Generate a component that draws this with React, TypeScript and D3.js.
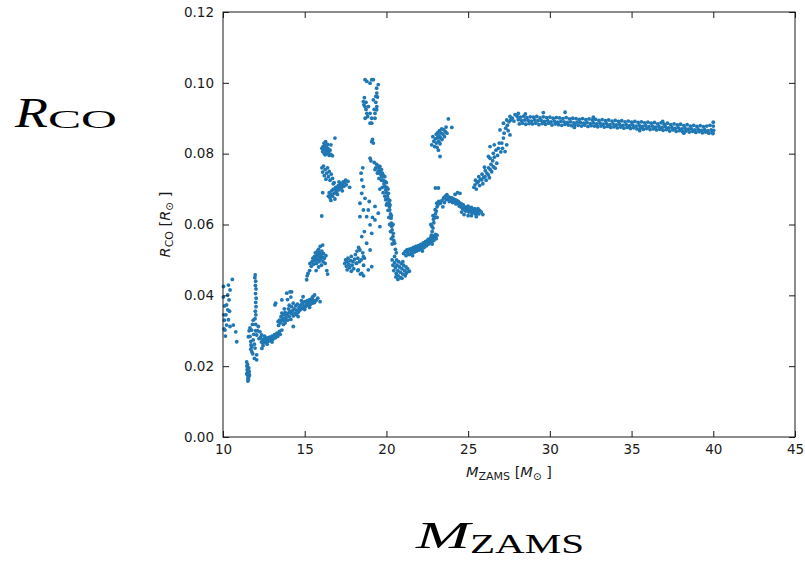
import React, { useEffect, useRef } from 'react';
import * as d3 from 'd3';

type Pt = [number, number];

// axis ticks
const massTicks = [10, 15, 20, 25, 30, 35, 40, 45];
const radiusTicks = [0, 0.02, 0.04, 0.06, 0.08, 0.1, 0.12];

// M_ZAMS [Msun], R_CO [Rsun], cluster by cluster
const lowMassTail: Pt[] = [
  [10.02, 0.0395], [10.05, 0.0345], [10.08, 0.033], [10.1, 0.037], [10.12, 0.0302], [10.15, 0.0285],
  [10.18, 0.0345], [10.22, 0.0373], [10.22, 0.0316], [10.29, 0.0401], [10.29, 0.0359], [10.33, 0.0429],
  [10.33, 0.0331], [10.37, 0.0387], [10.4, 0.0355], [10.43, 0.0415], [10.43, 0.0312], [10.57, 0.0445],
  [10.63, 0.0316], [10.78, 0.0297], [10.84, 0.0269], [10.03, 0.0425], [10.06, 0.0305],
];

const dipCluster: Pt[] = [
  [11.45, 0.0212], [11.5, 0.0205], [11.47, 0.02], [11.53, 0.0196], [11.48, 0.019], [11.55, 0.0186],
  [11.5, 0.0182], [11.57, 0.0178], [11.52, 0.0174], [11.58, 0.017], [11.53, 0.0166], [11.56, 0.0162],
  [11.52, 0.0158], [11.6, 0.0185], [11.62, 0.0175], [11.45, 0.0178], [11.58, 0.0195],
];

const spike12: Pt[] = [
  [11.97, 0.0458], [11.95, 0.045], [12.0, 0.044], [11.98, 0.0428], [12.02, 0.0418], [11.99, 0.0405],
  [12.03, 0.0392], [12.0, 0.038], [12.02, 0.0368], [11.98, 0.0355], [12.01, 0.0345], [11.96, 0.0334],
];

const knot12: Pt[] = [
  [11.55, 0.0283], [11.6, 0.03], [11.65, 0.0308], [11.65, 0.0284], [11.7, 0.027], [11.71, 0.026],
  [11.76, 0.0302], [11.76, 0.0255], [11.76, 0.0241], [11.8, 0.0318], [11.85, 0.033], [11.85, 0.0274],
  [11.88, 0.029], [11.92, 0.0222], [11.92, 0.0262], [11.96, 0.0251], [12.0, 0.03], [12.0, 0.0318],
  [12.06, 0.0288], [12.06, 0.0232], [12.06, 0.0218], [12.1, 0.03], [12.16, 0.0312], [12.2, 0.0278],
  [12.26, 0.0297], [12.3, 0.0282], [12.37, 0.0288], [11.82, 0.0235], [11.7, 0.0248],
];

const rise12to13: Pt[] = [
  [12.35, 0.0268], [12.4, 0.0275], [12.45, 0.0265], [12.5, 0.0272], [12.55, 0.0278], [12.6, 0.0268],
  [12.65, 0.0274], [12.7, 0.028], [12.75, 0.027], [12.8, 0.0276], [12.85, 0.0282], [12.9, 0.0272],
  [12.95, 0.0279], [13.0, 0.0285], [13.05, 0.0276], [13.1, 0.0283], [13.15, 0.0289], [13.2, 0.028],
  [13.25, 0.0287], [13.3, 0.0293], [13.35, 0.0284], [13.4, 0.0292], [13.45, 0.0298], [13.5, 0.029],
  [12.45, 0.0258], [12.7, 0.0262], [12.55, 0.0285], [13.0, 0.0268], [12.38, 0.025],
];

const band13to16: Pt[] = [
  [13.4, 0.0315], [13.45, 0.033], [13.5, 0.0322], [13.55, 0.034], [13.6, 0.0302], [13.6, 0.0328],
  [13.6, 0.035], [13.65, 0.0335], [13.7, 0.0318], [13.7, 0.0345], [13.75, 0.033], [13.8, 0.0352],
  [13.8, 0.0322], [13.85, 0.0338], [13.9, 0.0345], [13.9, 0.0406], [13.95, 0.033], [14.0, 0.035],
  [14.0, 0.0362], [14.05, 0.034], [14.1, 0.041], [14.1, 0.0355], [14.15, 0.0332], [14.2, 0.0348],
  [14.2, 0.0368], [14.25, 0.0356], [14.3, 0.0312], [14.3, 0.0342], [14.35, 0.0362], [14.4, 0.035],
  [14.45, 0.037], [14.5, 0.0345], [14.5, 0.0358], [14.55, 0.0375], [14.6, 0.0352], [14.65, 0.0365],
  [14.7, 0.0358], [14.75, 0.0372], [14.8, 0.0362], [14.85, 0.0378], [14.9, 0.0364], [14.9, 0.0396],
  [14.95, 0.037], [15.0, 0.0382], [15.05, 0.0368], [15.1, 0.0376], [15.15, 0.0385], [15.2, 0.0372],
  [15.25, 0.038], [15.3, 0.0388], [15.35, 0.0375], [15.4, 0.0384], [15.45, 0.0392], [15.5, 0.0378],
  [15.5, 0.0396], [15.55, 0.0385], [15.6, 0.0401], [15.6, 0.038], [15.7, 0.0386], [15.94, 0.0382],
  [13.18, 0.0373], [13.22, 0.0378], [13.37, 0.0326], [14.2, 0.041], [13.6, 0.0387],
  [14.05, 0.0372], [14.3, 0.0378], [14.6, 0.034], [14.8, 0.0385], [15.0, 0.036], [15.3, 0.0366],
  [13.75, 0.0362], [15.8, 0.0392], [13.95, 0.0388], [14.15, 0.0395],
];

const clump16Low: Pt[] = [
  [15.12, 0.0444], [15.15, 0.0455], [15.2, 0.0462], [15.32, 0.049], [15.3, 0.047], [15.4, 0.0482],
  [15.45, 0.0495], [15.5, 0.0505], [15.55, 0.0488], [15.6, 0.051], [15.62, 0.0498], [15.65, 0.052],
  [15.7, 0.0505], [15.72, 0.049], [15.75, 0.0512], [15.78, 0.0525], [15.8, 0.05], [15.82, 0.0515],
  [15.85, 0.053], [15.88, 0.0495], [15.9, 0.0508], [15.92, 0.052], [15.95, 0.0538], [15.98, 0.0502],
  [16.0, 0.0515], [16.02, 0.0485], [16.05, 0.0525], [16.08, 0.0508], [16.1, 0.0542], [16.12, 0.0495],
  [16.15, 0.0518], [16.2, 0.0505], [16.25, 0.049], [16.3, 0.0512], [16.35, 0.047], [16.4, 0.046],
  [15.85, 0.048], [15.7, 0.047],
];

const clump16High: Pt[] = [
  [16.1, 0.0806], [16.12, 0.082], [16.15, 0.0812], [16.18, 0.083], [16.2, 0.08], [16.22, 0.0824],
  [16.25, 0.0815], [16.28, 0.0834], [16.3, 0.0808], [16.32, 0.0822], [16.35, 0.0812], [16.38, 0.08],
  [16.4, 0.0826], [16.42, 0.0815], [16.45, 0.0804], [16.5, 0.0795], [16.55, 0.081], [16.6, 0.0798],
  [16.7, 0.0794], [16.85, 0.0844], [16.25, 0.0797], [16.05, 0.0815], [16.6, 0.0825],
];

const scatter16Mid: Pt[] = [
  [16.05, 0.076], [16.1, 0.0748], [16.15, 0.0765], [16.2, 0.0738], [16.25, 0.0755], [16.3, 0.0728],
  [16.35, 0.0745], [16.4, 0.076], [16.45, 0.0735], [16.5, 0.075], [16.55, 0.0725], [16.62, 0.0742],
  [16.7, 0.073], [16.8, 0.0718], [16.1, 0.069], [16.04, 0.0624],
];

const clump17: Pt[] = [
  [16.45, 0.068], [16.5, 0.069], [16.55, 0.0675], [16.6, 0.0685], [16.65, 0.0695], [16.7, 0.068],
  [16.75, 0.07], [16.8, 0.0688], [16.85, 0.0698], [16.9, 0.0705], [16.95, 0.0692], [17.0, 0.0702],
  [17.05, 0.071], [17.1, 0.0698], [17.15, 0.0708], [17.2, 0.0715], [17.25, 0.0703], [17.3, 0.0712],
  [17.35, 0.072], [17.4, 0.0708], [17.45, 0.0718], [17.5, 0.0725], [17.55, 0.0712], [17.65, 0.0722],
  [16.6, 0.0668], [16.85, 0.0672], [17.0, 0.0685], [17.1, 0.072], [16.75, 0.0715], [17.3, 0.0695],
  [17.75, 0.0705],
];

const clump18Low: Pt[] = [
  [17.45, 0.049], [17.5, 0.05], [17.55, 0.0482], [17.6, 0.0495], [17.65, 0.0505], [17.7, 0.0488],
  [17.75, 0.0478], [17.8, 0.0498], [17.85, 0.051], [17.9, 0.0485], [17.95, 0.0495], [18.0, 0.0475],
  [18.05, 0.0502], [18.1, 0.0515], [18.15, 0.049], [18.2, 0.0525], [18.25, 0.0505], [18.25, 0.047],
  [18.3, 0.0535], [18.35, 0.0495], [18.4, 0.046], [18.45, 0.05], [18.55, 0.052], [18.6, 0.0485],
  [18.6, 0.0455], [18.65, 0.0505], [17.6, 0.0472], [17.85, 0.0468],
];

const peak19: Pt[] = [
  [18.59, 0.0947], [18.62, 0.0938], [18.69, 0.1009], [18.69, 0.0933], [18.7, 0.09], [18.75, 0.0925],
  [18.8, 0.1004], [18.8, 0.0914], [18.85, 0.0905], [18.9, 0.0933], [19.0, 0.0999], [19.0, 0.0914],
  [19.0, 0.0886], [19.1, 0.1009], [19.1, 0.09], [19.1, 0.0886], [19.2, 0.1009], [19.2, 0.0952],
  [19.25, 0.0925], [19.3, 0.0914], [19.3, 0.09], [19.35, 0.0945], [19.4, 0.0985], [19.41, 0.0971],
  [19.41, 0.0933], [19.4, 0.0924], [19.45, 0.096], [19.5, 0.0995], [19.1, 0.0834], [19.15, 0.084],
  [19.2, 0.083], [18.65, 0.0958], [18.75, 0.0945], [19.35, 0.0962],
];

const fallingBranch20: Pt[] = [
  [19.0, 0.0787], [19.05, 0.078], [19.25, 0.0775], [19.4, 0.077], [19.5, 0.0765], [19.55, 0.0758],
  [19.6, 0.0764], [19.62, 0.075], [19.65, 0.0742], [19.7, 0.0755], [19.72, 0.0735], [19.75, 0.0745],
  [19.8, 0.0725], [19.82, 0.0738], [19.85, 0.0715], [19.9, 0.0707], [19.92, 0.0722], [19.95, 0.0698],
  [20.0, 0.069], [20.02, 0.0705], [20.05, 0.068], [20.1, 0.0672], [20.12, 0.0688], [20.15, 0.066],
  [20.18, 0.065], [20.2, 0.0641], [20.22, 0.0655], [20.25, 0.063], [20.28, 0.0618], [20.3, 0.0604],
  [20.32, 0.0595], [20.35, 0.0585], [20.4, 0.0566], [20.42, 0.0575], [20.45, 0.0555], [20.5, 0.0547],
  [20.55, 0.053], [20.6, 0.052], [19.35, 0.076], [19.45, 0.0745], [20.05, 0.066], [20.3, 0.0625],
  [19.75, 0.0705], [19.3, 0.0755], [19.5, 0.075], [19.7, 0.0725], [19.8, 0.069], [19.9, 0.068],
  [19.95, 0.067], [20.0, 0.0655], [20.1, 0.064], [20.15, 0.062], [20.2, 0.06], [20.25, 0.058],
  [20.3, 0.056], [20.35, 0.0545], [19.6, 0.07], [19.55, 0.073], [19.9, 0.0735], [20.1, 0.07],
  [20.0, 0.0718], [20.2, 0.0668], [20.4, 0.06],
];

const risingBranch19: Pt[] = [
  [18.49, 0.0726], [18.59, 0.0707], [18.49, 0.0688], [18.69, 0.0674], [18.38, 0.066], [18.59, 0.0641],
  [18.89, 0.0641], [18.38, 0.0622], [18.79, 0.0622], [19.3, 0.0651], [19.5, 0.0632], [19.3, 0.0613],
  [19.0, 0.0599], [19.6, 0.0594], [18.49, 0.0566], [19.1, 0.0575], [18.79, 0.0547], [19.0, 0.0528],
  [18.38, 0.0528], [18.59, 0.0509], [18.18, 0.0491], [18.28, 0.0472], [18.49, 0.0462], [19.1, 0.0481],
  [18.89, 0.0472], [18.65, 0.058], [18.95, 0.0665], [19.15, 0.062], [18.55, 0.076], [18.45, 0.0745],
];

const clump21Low: Pt[] = [
  [20.35, 0.05], [20.4, 0.0485], [20.45, 0.047], [20.5, 0.0492], [20.55, 0.0478], [20.6, 0.0462],
  [20.62, 0.05], [20.65, 0.0485], [20.7, 0.047], [20.72, 0.0455], [20.75, 0.0495], [20.8, 0.048],
  [20.85, 0.0465], [20.88, 0.045], [20.9, 0.049], [20.95, 0.0475], [21.0, 0.046], [21.05, 0.0485],
  [21.1, 0.047], [21.15, 0.0455], [21.2, 0.048], [21.25, 0.0465], [21.3, 0.0475], [21.4, 0.0468],
  [20.7, 0.0445], [21.0, 0.0495], [20.5, 0.051], [20.58, 0.0452], [20.95, 0.0448], [21.2, 0.0462],
];

const band21to23: Pt[] = [
  [21.05, 0.0518], [21.15, 0.0524], [21.2, 0.0512], [21.25, 0.0528], [21.3, 0.052], [21.35, 0.053],
  [21.4, 0.0515], [21.45, 0.0526], [21.5, 0.0532], [21.55, 0.052], [21.6, 0.0528], [21.65, 0.0535],
  [21.7, 0.0522], [21.75, 0.053], [21.8, 0.0538], [21.85, 0.0525], [21.9, 0.0533], [21.95, 0.054],
  [22.0, 0.0528], [22.05, 0.0536], [22.1, 0.0544], [22.15, 0.053], [22.2, 0.054], [22.25, 0.0548],
  [22.3, 0.0535], [22.35, 0.0545], [22.4, 0.0552], [22.45, 0.054], [22.5, 0.055], [22.55, 0.0558],
  [22.6, 0.0545], [22.65, 0.0555], [22.7, 0.0562], [22.75, 0.055], [22.8, 0.056], [22.85, 0.0568],
  [22.9, 0.0555], [22.95, 0.0565], [23.0, 0.0572], [23.05, 0.056], [23.1, 0.057], [21.6, 0.0512],
  [22.2, 0.0525],
];

const rise23: Pt[] = [
  [22.7, 0.056], [22.75, 0.057], [22.8, 0.058], [22.78, 0.0595], [22.85, 0.059], [22.9, 0.0605],
  [22.88, 0.0615], [22.95, 0.062], [23.0, 0.063], [22.98, 0.0642], [23.05, 0.0638], [23.1, 0.065],
  [23.08, 0.066], [23.15, 0.0655], [23.2, 0.0665], [22.85, 0.0625], [23.1, 0.062], [22.72, 0.06],
  [23.0, 0.0703], [22.8, 0.0545],
];

const clump23High: Pt[] = [
  [22.77, 0.0825], [22.84, 0.0848], [22.9, 0.0835], [22.95, 0.082], [23.0, 0.0842], [23.05, 0.083],
  [23.05, 0.0855], [23.1, 0.0818], [23.12, 0.0845], [23.15, 0.086], [23.2, 0.0835], [23.22, 0.085],
  [23.25, 0.0865], [23.28, 0.0828], [23.3, 0.0845], [23.35, 0.0858], [23.38, 0.087], [23.4, 0.084],
  [23.45, 0.0855], [23.5, 0.0868], [23.55, 0.0848], [23.6, 0.0862], [23.65, 0.0875], [23.7, 0.0858],
  [23.79, 0.0898], [24.0, 0.0874], [23.28, 0.0792], [23.18, 0.081],
];

const shelf24to26: Pt[] = [
  [23.3, 0.066], [23.4, 0.0668], [23.5, 0.0675], [23.55, 0.0662], [23.6, 0.068], [23.65, 0.067],
  [23.7, 0.0684], [23.75, 0.0672], [23.8, 0.0678], [23.85, 0.0665], [23.9, 0.0676], [23.95, 0.0668],
  [24.0, 0.0675], [24.05, 0.0662], [24.1, 0.0672], [24.15, 0.0665], [24.2, 0.067], [24.25, 0.0658],
  [24.3, 0.0668], [24.35, 0.066], [24.4, 0.0665], [24.45, 0.0652], [24.5, 0.0688], [24.5, 0.066],
  [24.55, 0.065], [24.6, 0.0658], [24.65, 0.0645], [24.7, 0.0655], [24.75, 0.0642], [24.8, 0.065],
  [24.85, 0.0638], [24.9, 0.0648], [24.95, 0.064], [25.0, 0.0652], [25.05, 0.0635], [25.1, 0.0645],
  [25.15, 0.0638], [25.2, 0.0648], [25.25, 0.0632], [25.3, 0.0642], [25.35, 0.0635], [25.4, 0.0645],
  [25.45, 0.063], [25.5, 0.064], [25.55, 0.0635], [25.6, 0.0645], [25.65, 0.063], [25.7, 0.064],
  [25.8, 0.0635], [25.9, 0.0628], [24.2, 0.0685], [24.35, 0.069], [23.18, 0.0703], [23.45, 0.065],
  [25.0, 0.0625], [24.75, 0.0628], [24.6, 0.0635], [25.2, 0.0625], [25.5, 0.0622],
];

const climb26to28: Pt[] = [
  [25.35, 0.0705], [25.42, 0.0712], [25.45, 0.0725], [25.5, 0.07], [25.55, 0.0718], [25.62, 0.0721],
  [25.65, 0.0735], [25.7, 0.071], [25.75, 0.0728], [25.83, 0.0726], [25.85, 0.0742], [25.9, 0.0715],
  [25.95, 0.0733], [26.03, 0.0735], [26.05, 0.0752], [26.1, 0.0725], [26.15, 0.0745], [26.24, 0.074],
  [26.24, 0.0792], [26.25, 0.076], [26.3, 0.0732], [26.34, 0.0787], [26.34, 0.082], [26.35, 0.0755],
  [26.4, 0.077], [26.44, 0.0749], [26.5, 0.078], [26.54, 0.0801], [26.54, 0.0763], [26.6, 0.079],
  [26.65, 0.0759], [26.7, 0.081], [26.75, 0.0773], [26.8, 0.0795], [26.85, 0.0815], [26.9, 0.083],
  [26.95, 0.0867], [27.0, 0.0805], [27.06, 0.083], [27.1, 0.0815], [27.16, 0.0844], [27.16, 0.0886],
  [27.2, 0.0858], [27.26, 0.0806], [27.3, 0.0872], [27.36, 0.0825], [27.36, 0.0895], [27.4, 0.088],
  [27.45, 0.0865], [27.5, 0.089], [27.56, 0.0853], [27.56, 0.0905], [27.6, 0.0895], [27.7, 0.09],
  [27.8, 0.0892], [27.87, 0.091], [28.07, 0.0914], [26.0, 0.0762], [26.6, 0.0825],
];

const plateau28to34: Pt[] = [
  [28.0, 0.0905], [28.07, 0.0896], [28.13, 0.0884], [28.2, 0.0903], [28.27, 0.0893], [28.33, 0.0886],
  [28.4, 0.0906], [28.47, 0.0895], [28.53, 0.0883], [28.6, 0.0902], [28.67, 0.0894], [28.73, 0.0885],
  [28.8, 0.0904], [28.87, 0.0892], [28.93, 0.0884], [29.0, 0.0903], [29.07, 0.0895], [29.13, 0.0886],
  [29.2, 0.0905], [29.27, 0.0893], [29.33, 0.0882], [29.4, 0.0901], [29.47, 0.0894], [29.53, 0.0885],
  [29.6, 0.0904], [29.67, 0.0891], [29.73, 0.0883], [29.8, 0.0902], [29.87, 0.0893], [29.93, 0.0886],
  [30.0, 0.0903], [30.07, 0.089], [30.13, 0.0881], [30.2, 0.09], [30.27, 0.0892], [30.33, 0.0884],
  [30.4, 0.0902], [30.47, 0.0889], [30.53, 0.0882], [30.6, 0.0901], [30.67, 0.0891], [30.73, 0.088],
  [30.8, 0.0899], [30.87, 0.089], [30.93, 0.0883], [31.0, 0.0902], [31.07, 0.0888], [31.13, 0.0881],
  [31.2, 0.0898], [31.27, 0.089], [31.33, 0.0879], [31.4, 0.09], [31.47, 0.0887], [31.53, 0.0882],
  [31.6, 0.0899], [31.67, 0.0889], [31.73, 0.088], [31.8, 0.0897], [31.87, 0.0888], [31.93, 0.0878],
  [32.0, 0.0899], [32.07, 0.0886], [32.13, 0.0881], [32.2, 0.0896], [32.27, 0.0888], [32.33, 0.0877],
  [32.4, 0.0898], [32.47, 0.0885], [32.53, 0.0879], [32.6, 0.0895], [32.67, 0.0887], [32.73, 0.0878],
  [32.8, 0.0897], [32.87, 0.0884], [32.93, 0.0876], [33.0, 0.0894], [33.07, 0.0886], [33.13, 0.0878],
  [33.2, 0.0896], [33.27, 0.0883], [33.33, 0.0875], [33.4, 0.0893], [33.47, 0.0885], [33.53, 0.0877],
  [33.6, 0.0895], [33.67, 0.0882], [33.73, 0.0874], [33.8, 0.0892], [33.87, 0.0884], [33.93, 0.0876],
];

const plateau34to40: Pt[] = [
  [34.0, 0.0894], [34.07, 0.0881], [34.13, 0.0873], [34.2, 0.0891], [34.27, 0.0883], [34.33, 0.0875],
  [34.4, 0.0893], [34.47, 0.088], [34.53, 0.0872], [34.6, 0.089], [34.67, 0.0882], [34.73, 0.0874],
  [34.8, 0.0892], [34.87, 0.0879], [34.93, 0.0871], [35.0, 0.0889], [35.07, 0.0881], [35.13, 0.0873],
  [35.2, 0.0891], [35.27, 0.0878], [35.33, 0.087], [35.4, 0.0888], [35.47, 0.088], [35.53, 0.0872],
  [35.6, 0.089], [35.67, 0.0877], [35.73, 0.0869], [35.8, 0.0887], [35.87, 0.0879], [35.93, 0.0871],
  [36.0, 0.0889], [36.07, 0.0876], [36.13, 0.0868], [36.2, 0.0886], [36.27, 0.0878], [36.33, 0.087],
  [36.4, 0.0888], [36.47, 0.0875], [36.53, 0.0867], [36.6, 0.0884], [36.67, 0.0877], [36.73, 0.0869],
  [36.8, 0.0887], [36.87, 0.0874], [36.93, 0.0866], [37.0, 0.0883], [37.07, 0.0876], [37.13, 0.0868],
  [37.2, 0.0886], [37.27, 0.0873], [37.33, 0.0864], [37.4, 0.0882], [37.47, 0.0874], [37.53, 0.0867],
  [37.6, 0.0884], [37.67, 0.0871], [37.73, 0.0863], [37.8, 0.0881], [37.87, 0.0873], [37.93, 0.0865],
  [38.0, 0.0883], [38.07, 0.087], [38.13, 0.0862], [38.2, 0.0879], [38.27, 0.0872], [38.33, 0.0864],
  [38.4, 0.0882], [38.47, 0.0869], [38.53, 0.0861], [38.6, 0.0878], [38.67, 0.087], [38.73, 0.0863],
  [38.8, 0.088], [38.87, 0.0867], [38.93, 0.086], [39.0, 0.0877], [39.07, 0.0869], [39.13, 0.0862],
  [39.2, 0.0879], [39.27, 0.0866], [39.33, 0.0859], [39.4, 0.0876], [39.47, 0.0868], [39.53, 0.0861],
  [39.6, 0.0878], [39.67, 0.0865], [39.73, 0.0858], [39.8, 0.088], [39.87, 0.0867], [39.93, 0.086],
  [40.0, 0.0878], [40.02, 0.0866], [39.98, 0.0857],
];

const plateauOutliers: Pt[] = [
  [29.6, 0.0916], [30.93, 0.0917], [28.5, 0.0912], [32.66, 0.0903], [31.5, 0.0874], [35.5, 0.0865],
  [40.0, 0.0889], [38.2, 0.0858], [36.9, 0.0891],
];

const allPoints: Pt[] = [
  ...lowMassTail, ...dipCluster, ...spike12, ...knot12, ...rise12to13, ...band13to16,
  ...clump16Low, ...clump16High, ...scatter16Mid, ...clump17, ...clump18Low, ...peak19,
  ...fallingBranch20, ...risingBranch19, ...clump21Low, ...band21to23, ...rise23, ...clump23High,
  ...shelf24to26, ...climb26to28, ...plateau28to34, ...plateau34to40, ...plateauOutliers,
];

const W = 805;
const H = 571;
const margin = { top: 12, right: 10, bottom: 134, left: 223 };

const App = () => {
  const svgRef = useRef<SVGSVGElement>(null);

  useEffect(() => {
    const svg = d3.select(svgRef.current);
    svg.selectAll('*').remove();

    const x = d3.scaleLinear().domain([10, 45]).range([margin.left, W - margin.right]);
    const y = d3.scaleLinear().domain([0, 0.12]).range([H - margin.bottom, margin.top]);
    const ink = '#1a1a1a';
    const tickFont = '"DejaVu Sans", sans-serif';

    // points
    svg.append('g')
      .selectAll('circle')
      .data(allPoints)
      .join('circle')
      .attr('cx', (d) => x(d[0]))
      .attr('cy', (d) => y(d[1]))
      .attr('r', 1.9)
      .attr('fill', '#1f77b4');

    const styleAxis = (g: any) => {
      g.select('.domain').remove();
      g.selectAll('line').attr('stroke', ink);
      g.selectAll('text').attr('fill', ink).attr('font-family', tickFont).attr('font-size', 13.5);
    };

    svg.append('g')
      .attr('transform', `translate(0,${y(0)})`)
      .call(d3.axisBottom(x).tickValues(massTicks).tickFormat((d: any) => String(d)).tickSizeInner(-6).tickSizeOuter(0).tickPadding(7))
      .call(styleAxis);
    svg.append('g')
      .attr('transform', `translate(0,${y(0.12)})`)
      .call(d3.axisTop(x).tickValues(massTicks).tickFormat(() => '').tickSizeInner(-6).tickSizeOuter(0))
      .call(styleAxis);
    svg.append('g')
      .attr('transform', `translate(${x(10)},0)`)
      .call(d3.axisLeft(y).tickValues(radiusTicks).tickFormat(d3.format('.2f')).tickSizeInner(-6).tickSizeOuter(0).tickPadding(9))
      .call(styleAxis);
    svg.append('g')
      .attr('transform', `translate(${x(45)},0)`)
      .call(d3.axisRight(y).tickValues(radiusTicks).tickFormat(() => '').tickSizeInner(-6).tickSizeOuter(0))
      .call(styleAxis);

    // frame
    svg.append('rect')
      .attr('x', x(10)).attr('y', y(0.12))
      .attr('width', x(45) - x(10)).attr('height', y(0) - y(0.12))
      .attr('fill', 'none').attr('stroke', ink).attr('stroke-width', 1);

    // axis labels
    const xl = svg.append('text')
      .attr('x', (x(10) + x(45)) / 2).attr('y', 477)
      .attr('text-anchor', 'middle')
      .attr('font-family', tickFont).attr('font-size', 14.5).attr('fill', ink);
    xl.append('tspan').attr('font-style', 'italic').text('M');
    xl.append('tspan').attr('font-size', 11).attr('dy', 3).text('ZAMS');
    xl.append('tspan').attr('dy', -3).text(' [');
    xl.append('tspan').attr('font-style', 'italic').text('M');
    xl.append('tspan').attr('font-size', 10.5).attr('dy', 3).text('⊙');
    xl.append('tspan').attr('dy', -3).text(' ]');

    const yl = svg.append('text')
      .attr('transform', `translate(170,${(y(0) + y(0.12)) / 2}) rotate(-90)`)
      .attr('text-anchor', 'middle')
      .attr('font-family', tickFont).attr('font-size', 14.5).attr('fill', ink);
    yl.append('tspan').attr('font-style', 'italic').text('R');
    yl.append('tspan').attr('font-size', 11).attr('dy', 3).text('CO');
    yl.append('tspan').attr('dy', -3).text(' [');
    yl.append('tspan').attr('font-style', 'italic').text('R');
    yl.append('tspan').attr('font-size', 10.5).attr('dy', 3).text('⊙');
    yl.append('tspan').attr('dy', -3).text(' ]');

    // large side labels
    const serif = '"Liberation Serif", "DejaVu Serif", serif';
    svg.append('text').attr('x', 15).attr('y', 127).attr('font-family', serif).attr('font-style', 'italic')
      .attr('font-size', 42).attr('textLength', 33).attr('lengthAdjust', 'spacingAndGlyphs').attr('fill', '#000').text('R');
    svg.append('text').attr('x', 48).attr('y', 128).attr('font-family', serif)
      .attr('font-size', 26).attr('textLength', 69).attr('lengthAdjust', 'spacingAndGlyphs').attr('fill', '#000').text('CO');
    svg.append('text').attr('x', 416).attr('y', 548).attr('font-family', serif).attr('font-style', 'italic')
      .attr('font-size', 38).attr('textLength', 54).attr('lengthAdjust', 'spacingAndGlyphs').attr('fill', '#000').text('M');
    svg.append('text').attr('x', 470).attr('y', 553).attr('font-family', serif)
      .attr('font-size', 28).attr('textLength', 114).attr('lengthAdjust', 'spacingAndGlyphs').attr('fill', '#000').text('ZAMS');
  }, []);

  return (
    <svg ref={svgRef} width={W} height={H}
      style={{ position: 'absolute', left: 0, top: 0, background: '#fff', display: 'block' }} />
  );
};

export default App;
